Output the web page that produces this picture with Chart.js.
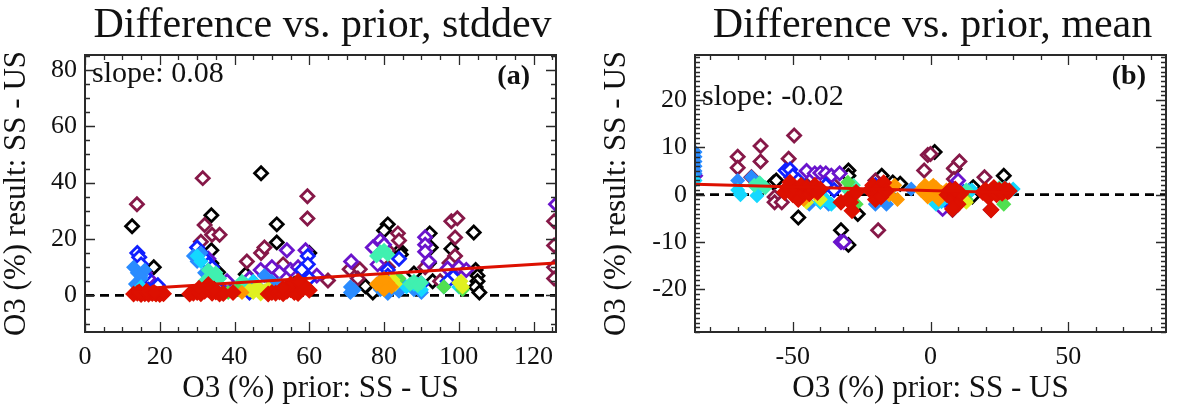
<!DOCTYPE html>
<html>
<head>
<meta charset="utf-8">
<script src="https://cdn.jsdelivr.net/npm/chart.js@4.4.0/dist/chart.umd.min.js"></script>
<style>
  html, body { margin: 0; padding: 0; background: #fff; }
  #wrap { position: relative; width: 1179px; height: 409px; }
  .panel { position: absolute; top: 0; height: 409px; }
</style>
</head>
<body>
<div id="wrap">
  <div class="panel" style="left:0;width:590px"><canvas id="chartA"></canvas></div>
  <div class="panel" style="left:590px;width:589px"><canvas id="chartB"></canvas></div>
</div>
<script>
// ---- panel (a): stddev, [prior, result] pairs per colour group ----
const aBlack = [[12.6,24.5],[18.4,10],[16,3],[33.8,28.4],[33.8,16],[33.8,11.4],[35.6,8.2],[36,5],[43,7.5],[47.1,43.3],
  [51.3,25.2],[51.3,18.8],[56,4],[60,15],[75,3.2],[77,1],[81,25.2],[80,23],[84.3,16],[84.5,14.5],[88,7.8],[92.2,22],
  [92.5,17],[92,11.5],[93,5],[98,16.5],[104,22.3],[104.5,9],[105,7],[105,5],[104.5,3],[105.5,1]];
const aMaroon = [[13.9,32.3],[15.5,9],[31.5,41.6],[32,25],[34,21.5],[36,21.5],[31,19],[37,4],[43.3,12],[45,2],[47.1,15],
  [48,17],[53,11],[56,3],[59.5,35.2],[59.5,27.3],[65,5.3],[70.8,9.3],[73.5,9.3],[73,6],[83.7,22],[84,19.5],[81,16],
  [81,10],[91,10],[95,5],[98,26.3],[99.6,27.4],[99,20.5],[99,14],[97.5,11.5],[125.5,26.3],[125.5,17.7],[125.5,10],[125.5,6]];
const aPurple = [[16,8],[17,6],[33,13],[38,5],[44,6],[47,9],[50,10],[52,8],[55,9],[57,10],[54,16],[59,16],[62,7],
  [71.2,12],[79,19.5],[80,18],[78.3,11],[77,17],[91,20.6],[91,18],[91,15.5],[92,12],[97,9.5],[100,10],[102,9],[126,32.3]];
const aBlue = [[14,15],[14.5,13.5],[15,11],[16,7],[17,2],[19.5,3.6],[30,17],[31,15],[32,13],[33,11],[34,10],[36,2],
  [44,1],[45,2.5],[59.6,14],[59.6,11],[58,9],[60,6],[84,13],[81,9],[81,7],[80,6],[90,4],[98.5,6.5],[97,5]];
const aDodger = [[13,10],[14,8],[15,6],[16,9],[13.5,4],[15,7],[29,14],[30,12],[31,15],[32,8],[40,2],[42,3],[46,3.5],
  [48,7],[50,5],[52,4],[71,3],[71,1],[72,2],[79,2],[81,0.7],[83,3],[84,1.5],[85,4],[88,2],[89,4],[90,1],[96,3]];
const aCyan = [[15,3],[16,1.5],[30,14],[31,12],[43,4],[44,3],[45,5],[58,4],[86,3],[88,4],[90,2],[100,3]];
const aAqua = [[32,5],[33,9],[34,7],[35,8],[36,6],[41,3],[42,5],[44,2],[49,2],[50,1],[57,5],[78,14],[79,15.5],
  [80,16],[81,14.5],[87,4],[88,5],[89,3.5],[90,4.5]];
const aGreen = [[38.3,1],[41,2],[55,3],[84,6],[96,3],[101,2]];
const aYellow = [[18.9,0.3],[44,2],[45,1],[46,3],[47,2],[48,1.5],[49,2.5],[47,0.5],[82.4,5.5],[83,4],[100.6,5],[101,3],[100,4.5]];
const aOrange = [[42,1],[57,2],[78,4],[79,5],[80,6],[81,4.5],[82,3],[80,2]];
const aRed = [[13,0.5],[14,0.8],[15,0.3],[16,0.6],[17,0.4],[18,0.7],[19,0.5],[20,0.3],[21,0.6],[14.5,1.2],[16.5,1.4],
  [18.5,1],[28,0.5],[29,0.8],[30,1],[31,0.6],[32,1.5],[33,2],[34,0.8],[35,1.2],[36,0.5],[37,0.7],[30.5,2.5],[32.5,3],
  [34.5,2.2],[33,3.8],[39.6,1],[49,0.5],[50,1],[51,0.8],[52,1.2],[53,0.6],[54,1.5],[55,2],[56,1],[57,0.7],[58,2.5],
  [59,3],[60,1.8],[55,4],[57,5],[53,2.5]];
const aFit = [[12.5, 2.2], [126, 11.5]];

// ---- panel (b): mean ----
const bBlack = [[-57,2.5],[-56,3],[-48,-4.8],[-40,1],[-29.8,5.1],[-29.8,4],[-32.5,-7.5],[-29.8,-10.6],[-26.4,-4.1],
  [-17.7,4],[-13.7,2.6],[-11,2.3],[1.5,9],[8.7,5.5],[15.2,-0.4],[15.5,1.6],[26.6,4]];
const bMaroon = [[-70,8],[-70,5.7],[-61.7,10.3],[-61.7,7],[-65,3.7],[-56.6,-0.5],[-56.6,-1.6],[-54,-1.6],[-49.5,12.5],
  [-51.5,7.6],[-50.5,3.7],[-45,2],[-40,1],[-35,2],[-19,-7.5],[-20,3],[-2.3,5.1],[-1,8.4],[0,8.6],[8.5,5.6],[8.5,3.3],
  [10.5,7],[8,-3.2],[19.6,3.7],[21.9,-3.2]];
const bPurple = [[-85.5,4],[-50,3],[-45,5],[-42,4.5],[-40,4.6],[-38,4.5],[-36,4],[-33,4.5],[-32.5,-10],[-31.5,-10],
  [-18,2],[4.4,-2],[4.4,-3],[10,3]];
const bBlue = [[-52.6,5.1],[-51,5.3],[-50,4],[-48,3],[-38,2],[-35,1],[-20,2],[-15,1],[5,-1],[12,0.5]];
const bDodger = [[-85.5,9],[-85.5,8],[-85.5,7],[-85.5,6],[-85.5,5],[-85.5,4.5],[-70,3],[-65,3.7],[-63,2.5],[-44,-2],
  [-40,-1.6],[-37,-2],[-20,-2],[-16,-2],[-7,1.2],[3,-1.5],[6,-0.5],[14,1]];
const bCyan = [[-85.5,3],[-70,1],[-69,0],[-62,1.5],[-63,-0.2],[-40,-1.6],[-38,-1],[-36,-2],[-15,0],[2,-2],[4,-1.5],
  [14,0.5],[15,1],[27,1.5],[28,0.5],[30,1.2]];
const bAqua = [[-64,2],[-62,2.5],[-60,1.5],[-30,1],[-28,2],[13,1],[22,1],[25,1.5]];
const bGreen = [[-45,1],[-30,2.6],[-28,0.5],[-27,-2],[13,-1],[25,0],[26.6,-2]];
const bYellow = [[-45,-1.6],[-40,-1],[-20,-1],[-18,0],[0,1.5],[12,-1],[13,-1.6]];
const bOrange = [[-48,0],[-46,-1],[-44,1],[-42,0.5],[-17,1],[-15,0],[-13,2],[-12,-1],[-3.6,1],[-2,2],[-1,-0.5],[0,0],
  [1,2],[2,1.5],[3,-1],[4,0.5],[5.8,1],[27,0.5]];
const bRed = [[-53,0.5],[-52,1.5],[-51,2.6],[-50,0],[-49,1],[-48,-1],[-47,2],[-46,0.5],[-45,1.5],[-44,0.2],[-43,1],
  [-42,2],[-41,0.5],[-40,1.2],[-32.5,-1.6],[-30,-1],[-29,-1.6],[-28.5,-3.4],[-27,0.5],[-22,1],[-21,2],[-20,0],[-20,-1],
  [-19,1.5],[-18,-0.5],[-17,2.5],[-16,0.8],[6,0],[7,1],[8,-1],[9,0.5],[10,-2],[11,0.2],[8,-3],[9,1.2],[19,0.5],[20,1],
  [21,-0.5],[22,0.8],[22,-3.2],[23,1.5],[24,0],[25,1],[26,0.3],[27,1.2],[28,0.6],[28.6,0.8]];
const bFit = [[-85.5, 2.2], [29, 0.4]];

// axis ranges and tick labels
const aXRange = [0, 126], aYRange = [-13, 85.3];
const bXRange = [-85.5, 85.5], bYRange = [-29, 29.5];
const aXTicks = [0, 20, 40, 60, 80, 100, 120], aYTicks = [0, 20, 40, 60, 80];
const bXTicks = [-50, 0, 50], bYTicks = [-20, -10, 0, 10, 20];

const groupColors = ['#000000', '#861848', '#6a14cc', '#1020ff', '#2a8cff', '#14d8ff', '#40f0b0', '#50e050', '#e0f020', '#ff9800', '#dd1000'];
const openGroup = [true, true, true, true, false, false, false, false, false, false, false];

const serif = '"Liberation Serif", "Times New Roman", serif';

function toPts(arr) { return arr.map(p => ({ x: p[0], y: p[1] })); }

const framePlugin = {
  id: 'frame',
  afterDatasetsDraw(chart, args, o) {
    const { ctx, chartArea: a } = chart;
    const xs = chart.scales.x, ys = chart.scales.y;
    ctx.save();
    ctx.strokeStyle = '#2a2a2a';
    ctx.lineWidth = 1.3;
    ctx.beginPath();
    const marks = (scale, step, len, horiz) => {
      const start = Math.ceil(scale.min / step - 1e-9) * step;
      for (let v = start; v <= scale.max + 1e-9; v += step) {
        const p = Math.round(scale.getPixelForValue(v)) + 0.5;
        if (horiz) {
          ctx.moveTo(p, a.bottom); ctx.lineTo(p, a.bottom - len);
          ctx.moveTo(p, a.top); ctx.lineTo(p, a.top + len);
        } else {
          ctx.moveTo(a.left, p); ctx.lineTo(a.left + len, p);
          ctx.moveTo(a.right, p); ctx.lineTo(a.right - len, p);
        }
      }
    };
    marks(xs, o.xMinor, 5, true);
    marks(xs, o.xMajor, 10, true);
    marks(ys, o.yMinor, 5, false);
    marks(ys, o.yMajor, 10, false);
    ctx.stroke();
    ctx.lineWidth = 2;
    ctx.strokeRect(a.left, a.top, a.right - a.left, a.bottom - a.top);

    ctx.fillStyle = '#111';
    ctx.textBaseline = 'alphabetic';
    ctx.font = '42px ' + serif;
    ctx.textAlign = 'center';
    ctx.fillText(o.title, (a.left + a.right) / 2 + 2, 37);
    ctx.font = '30px ' + serif;
    ctx.textAlign = 'left';
    ctx.fillText(o.slope, a.left + 7, o.slopeY);
    ctx.font = 'bold 28px ' + serif;
    ctx.textAlign = 'right';
    ctx.fillText(o.tag, a.right - o.tagPad, 84);
    ctx.restore();
  }
};

function makeChart(id, groups, fit, xr, yr, xt, yt, yWidth, rightPad, frame) {
  const datasets = [];
  groups.forEach((g, i) => {
    const open = openGroup[i];
    const isRed = i === groups.length - 1;
    datasets.push({
      type: 'scatter',
      data: toPts(g),
      pointStyle: 'rectRot',
      pointRadius: isRed ? 7.5 : 6.5,
      pointBorderWidth: open ? 2.8 : 1.5,
      borderColor: groupColors[i],
      backgroundColor: open ? '#ffffff' : groupColors[i],
      order: groups.length - i
    });
  });
  datasets.push({
    type: 'line', data: toPts(fit), borderColor: '#dd1000', borderWidth: 3,
    pointRadius: 0, order: 0
  });
  datasets.push({
    type: 'line', data: [{ x: xr[0], y: 0 }, { x: xr[1], y: 0 }], borderColor: '#000',
    borderWidth: 2.8, borderDash: [9, 6], pointRadius: 0, order: 20
  });

  return new Chart(document.getElementById(id), {
    type: 'scatter',
    data: { datasets },
    options: {
      responsive: true,
      maintainAspectRatio: false,
      animation: false,
      events: [],
      layout: { padding: { left: 0, right: rightPad, top: 55, bottom: 0 } },
      plugins: { legend: { display: false }, tooltip: { enabled: false }, frame },
      scales: {
        x: {
          type: 'linear', min: xr[0], max: xr[1],
          afterBuildTicks: s => { s.ticks = xt.map(v => ({ value: v })); },
          afterFit: s => { s.height = 77; },
          grid: { display: false, drawTicks: false },
          border: { display: false },
          ticks: { color: '#111', padding: 10, maxRotation: 0, autoSkip: false, font: { family: serif, size: 26 } },
          title: { display: true, text: 'O3 (%) prior: SS - US', color: '#111',
                   font: { family: serif, size: 31, lineHeight: 1.1 }, padding: { top: 0, bottom: 3 } }
        },
        y: {
          type: 'linear', min: yr[0], max: yr[1],
          afterBuildTicks: s => { s.ticks = yt.map(v => ({ value: v })); },
          afterFit: s => { s.width = yWidth; },
          grid: { display: false, drawTicks: false },
          border: { display: false },
          ticks: { color: '#111', padding: 8, autoSkip: false, font: { family: serif, size: 26 } },
          title: { display: true, text: 'O3 (%) result: SS - US', color: '#111',
                   font: { family: serif, size: 31, lineHeight: 1.1 }, padding: { top: frame.yTitlePad, bottom: 0 } }
        }
      }
    },
    plugins: [framePlugin]
  });
}

makeChart('chartA',
  [aBlack, aMaroon, aPurple, aBlue, aDodger, aCyan, aAqua, aGreen, aYellow, aOrange, aRed],
  aFit, aXRange, aYRange, aXTicks, aYTicks, 85, 34,
  { title: 'Difference vs. prior, stddev', slope: 'slope: 0.08', slopeY: 82, tag: '(a)', tagPad: 26,
    xMinor: 5, xMajor: 20, yMinor: 5, yMajor: 20, yTitlePad: 0 });

makeChart('chartB',
  [bBlack, bMaroon, bPurple, bBlue, bDodger, bCyan, bAqua, bGreen, bYellow, bOrange, bRed],
  bFit, bXRange, bYRange, bXTicks, bYTicks, 105, 13,
  { title: 'Difference vs. prior, mean', slope: 'slope: -0.02', slopeY: 105, tag: '(b)', tagPad: 20,
    xMinor: 10, xMajor: 50, yMinor: 1, yMajor: 10, yTitlePad: 10 });
</script>
</body>
</html>
